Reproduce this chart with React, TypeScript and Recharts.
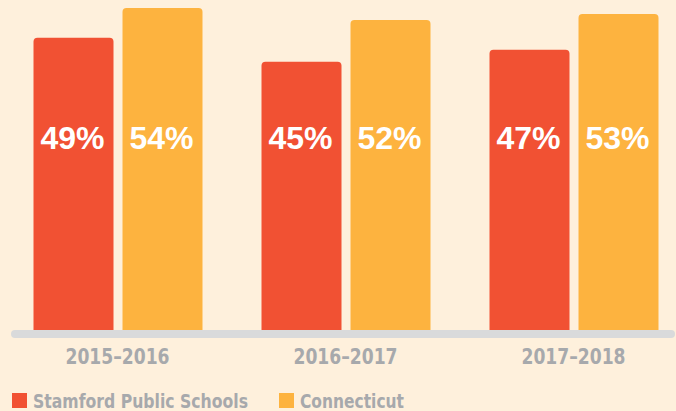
import React from 'react'
import { BarChart, Bar, XAxis, YAxis, LabelList, ReferenceLine } from 'recharts'

const years = ['2015–2016', '2016–2017', '2017–2018']
const stamford = [49, 45, 47]
const connecticut = [54, 52, 53]
const seriesNames = ['Stamford Public Schools', 'Connecticut']

const RED = '#f15133'
const YELLOW = '#fdb33f'
const GRAY_TEXT = '#a7a9ac'
const BG = '#fef0dc'
const NARROW = '"DejaVu Sans Condensed", "Liberation Sans", sans-serif'

const data = years.map((year, i) => ({
  year,
  stamford: stamford[i],
  connecticut: connecticut[i],
}))

const PercentLabel = (props: any) => {
  const { x, y, width, height, value } = props
  const bottom = y + height
  return (
    <text
      x={x + width / 2 - 1}
      y={bottom - 181}
      textAnchor="middle"
      fill="#ffffff"
      fontFamily='"Liberation Sans", Arial, sans-serif'
      fontWeight={700}
      fontSize={32}
    >
      {value}%
    </text>
  )
}

const YearTick = (props: any) => {
  const { x, y, payload } = props
  return (
    <text
      x={x}
      y={y + 34}
      textAnchor="middle"
      fill={GRAY_TEXT}
      fontFamily={NARROW}
      fontWeight={700}
      fontSize={21}
      textLength={104}
      lengthAdjust="spacingAndGlyphs"
    >
      {payload.value}
    </text>
  )
}

const AxisBar = (props: any) => {
  const { y1 } = props
  return (
    <line x1={15} x2={671} y1={y1 + 4} y2={y1 + 4} stroke="#d9dadb" strokeWidth={8} strokeLinecap="round" />
  )
}

// legend item layout (left of swatch, text width)
const legendX = [12, 279]
const legendTextWidth = [215, 104]

export default function App() {
  const colors = [RED, YELLOW]
  return (
    <div
      style={{
        position: 'absolute',
        left: 0,
        top: 0,
        width: 676,
        height: 411,
        background: BG,
        overflow: 'hidden',
      }}
    >
      <BarChart
        width={688}
        height={370}
        data={data}
        margin={{ top: 2, right: 0.5, left: 3.5, bottom: 0 }}
        barSize={80}
        barGap={9}
      >
        <XAxis
          dataKey="year"
          axisLine={false}
          tickLine={false}
          tickSize={0}
          tickMargin={0}
          height={40}
          tick={<YearTick />}
          interval={0}
        />
        <YAxis hide domain={[0, 55]} />
        <Bar dataKey="stamford" fill={RED} radius={[4, 4, 0, 0]} isAnimationActive={false}>
          <LabelList dataKey="stamford" content={<PercentLabel />} />
        </Bar>
        <Bar dataKey="connecticut" fill={YELLOW} radius={[4, 4, 0, 0]} isAnimationActive={false}>
          <LabelList dataKey="connecticut" content={<PercentLabel />} />
        </Bar>
        <ReferenceLine y={0} ifOverflow="visible" shape={<AxisBar />} />
      </BarChart>
      <svg width={676} height={24} style={{ position: 'absolute', left: 0, top: 387 }}>
        {seriesNames.map((name, i) => (
          <g key={name}>
            <rect x={legendX[i]} y={6} width={15} height={15} fill={colors[i]} />
            <text
              x={legendX[i] + 21}
              y={21}
              fill={GRAY_TEXT}
              fontFamily={NARROW}
              fontWeight={700}
              fontSize={19.5}
              textLength={legendTextWidth[i]}
              lengthAdjust="spacingAndGlyphs"
            >
              {name}
            </text>
          </g>
        ))}
      </svg>
    </div>
  )
}
